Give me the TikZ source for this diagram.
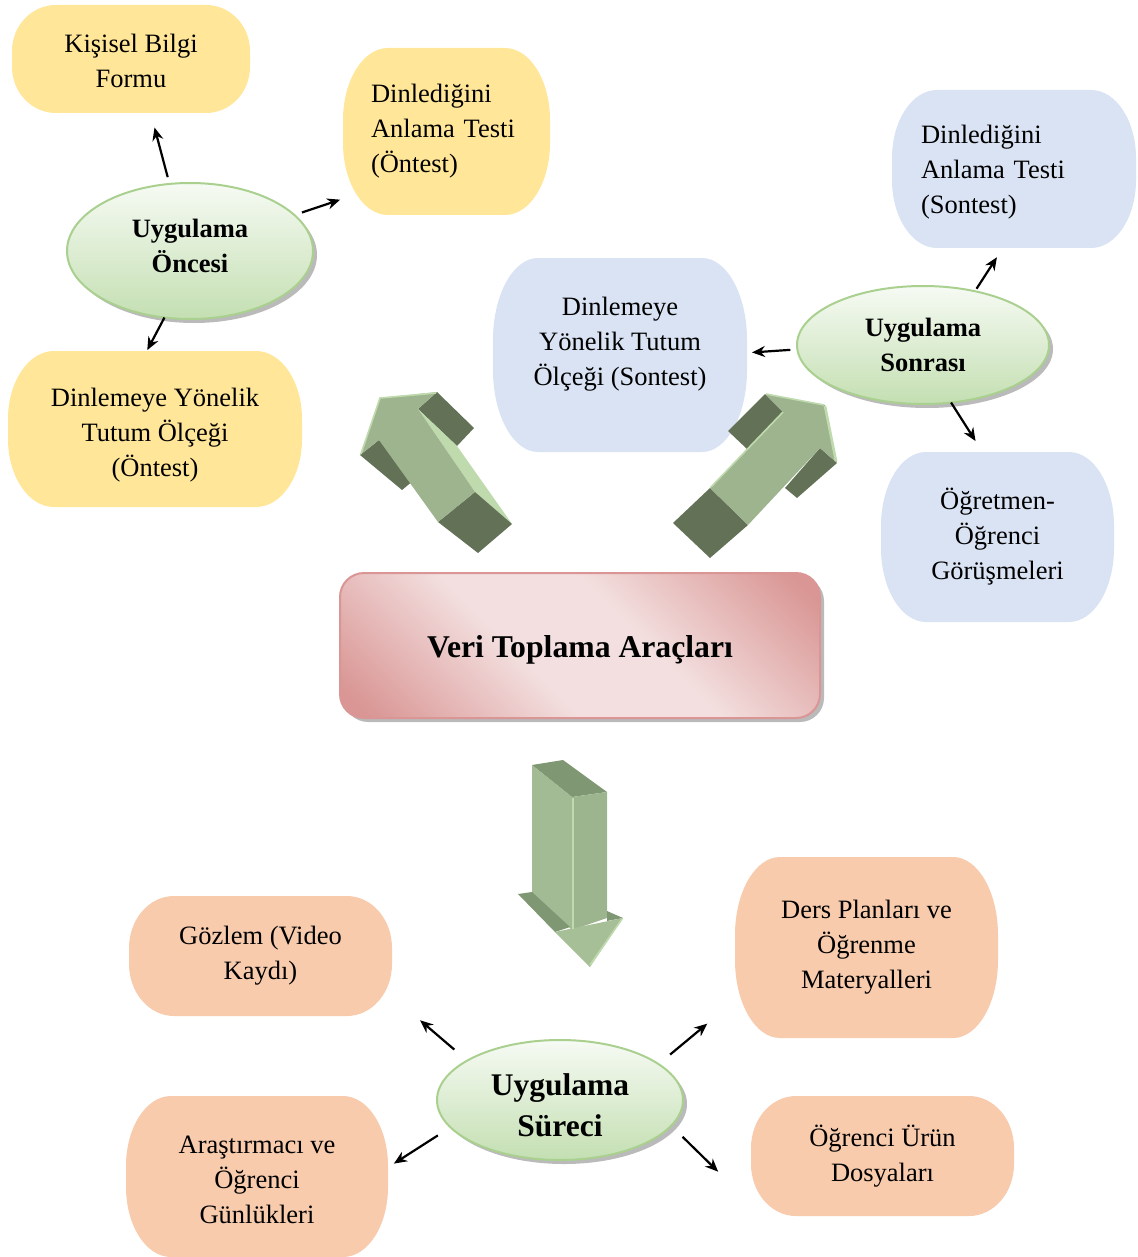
\documentclass[tikz,border=0pt]{standalone}
\usepackage{fontspec}
\setmainfont{Liberation Serif}
\usepackage{tikz}
\usetikzlibrary{shapes.geometric, arrows.meta, backgrounds, shadows}

\definecolor{preyellow}{HTML}{FFE699}
\definecolor{postblue}{HTML}{DAE3F3}
\definecolor{procorange}{HTML}{F8CBAD}
\definecolor{phasegreen}{HTML}{C4DFB2}
\definecolor{phaseline}{HTML}{A9D08E}
\definecolor{toolpink}{HTML}{F3DFDF}
\definecolor{toolrose}{HTML}{D99694}
\definecolor{arrface}{HTML}{9EB48F}
\definecolor{arrside}{HTML}{637257}
\definecolor{arrlight}{HTML}{BFDAAD}
\definecolor{downface}{HTML}{A3BB95}
\definecolor{downright}{HTML}{9DB58E}
\definecolor{downtop}{HTML}{7F9873}
\definecolor{downhead}{HTML}{A6BF97}

\pgfdeclarehorizontalshading{toolband}{100bp}{color(0bp)=(toolrose); color(18bp)=(toolrose); color(42bp)=(toolpink); color(58bp)=(toolpink); color(82bp)=(toolrose); color(100bp)=(toolrose)}

% box with elliptic corners, filled behind a node
\newcommand{\softbox}[4]{%
  \fill[#2] ([xshift=#3]#1.north west) -- ([xshift=-#3]#1.north east)
    arc[start angle=90, end angle=0, x radius=#3, y radius=#4]
    -- ([yshift=#4]#1.south east)
    arc[start angle=0, end angle=-90, x radius=#3, y radius=#4]
    -- ([xshift=#3]#1.south west)
    arc[start angle=270, end angle=180, x radius=#3, y radius=#4]
    -- ([yshift=-#4]#1.north west)
    arc[start angle=180, end angle=90, x radius=#3, y radius=#4] -- cycle;}

\begin{document}
\begin{tikzpicture}[
        x=1pt, y=-1pt,
        card/.style={inner sep=0pt, outer sep=0pt, align=center, font=\fontsize{26.5}{35}\selectfont},
        phase/.style={ellipse, draw=phaseline, line width=2pt, inner sep=0pt, outer sep=0pt, top color=white!85!phasegreen, bottom color=phasegreen, drop shadow={shadow xshift=4pt, shadow yshift=-4pt, fill=black!45, opacity=.6}, align=center, font=\bfseries\fontsize{26.5}{35}\selectfont},
        tool/.style={rounded corners=24pt, draw=toolrose, line width=2pt, inner sep=0pt, outer sep=0pt, shade, shading=toolband, shading angle=45, drop shadow={shadow xshift=4pt, shadow yshift=-4pt, fill=black!45, opacity=.6}, font=\bfseries\fontsize{31.7}{38}\selectfont},
        link/.style={-{Stealth[length=13pt, width=11pt]}, line width=2.2pt},
        arrfront/.style={fill=arrface},
        arrdark/.style={fill=arrside},
        arrhi/.style={fill=arrlight},
        arredge/.style={draw=arrlight, line width=1.6pt}
    ]
    \useasboundingbox (0,0) rectangle (1137,1257);

    % --- Uygulama Oncesi ---
    \node[phase, minimum width=246pt, minimum height=136pt] (oncesi) at (190,251) {Uygulama\\Öncesi\rule[-10pt]{0pt}{10pt}};
    \node[card, minimum width=238pt, minimum height=108pt] (kisisel) at (131,59) {\rule{0pt}{23pt}Kişisel Bilgi\\Formu};
    \node[card, align=left, text width=151pt, minimum width=207pt, minimum height=167pt] (dinl_on) at (446.5,131.5) {Dinlediğini\\Anlama Testi\\(Öntest)};
    \node[card, minimum width=294pt, minimum height=156pt] (tutum_on) at (155,429) {\rule{0pt}{30pt}Dinlemeye Yönelik\\Tutum Ölçeği\\(Öntest)};

    % --- Uygulama Sonrasi ---
    \node[phase, minimum width=252pt, minimum height=118pt] (sonrasi) at (923,345) {Uygulama\\Sonrası};
    \node[card, align=left, text width=186pt, minimum width=244pt, minimum height=158pt] (dinl_son) at (1014,169) {\rule{0pt}{25pt}Dinlediğini\\Anlama Testi\\(Sontest)};
    \node[card, minimum width=254pt, minimum height=194pt] (tutum_son) at (620,355) {Dinlemeye\\Yönelik Tutum\\Ölçeği (Sontest)\rule[-28pt]{0pt}{28pt}};
    \node[card, minimum width=233pt, minimum height=170pt] (gorusme) at (997.5,537) {Öğretmen-\\Öğrenci\\Görüşmeleri};

    % --- Veri Toplama ---
    \node[tool, minimum width=480pt, minimum height=145pt] (veri) at (580,645.5) {\rule{0pt}{30pt}Veri Toplama Araçları};

    % --- Uygulama Sureci ---
    \node[phase, minimum width=246pt, minimum height=120pt, font=\bfseries\fontsize{31.5}{41}\selectfont] (surec) at (560,1100) {\rule{0pt}{32pt}Uygulama\\Süreci};
    \node[card, minimum width=263pt, minimum height=120pt] (gozlem) at (260.5,956) {Gözlem (Video\\Kaydı)};
    \node[card, minimum width=263pt, minimum height=181pt] (dersplan) at (866.5,947.5) {Ders Planları ve\\Öğrenme\\Materyalleri};
    \node[card, minimum width=262pt, minimum height=161pt] (gunluk) at (257,1176.5) {\rule{0pt}{24pt}Araştırmacı ve\\Öğrenci\\Günlükleri};
    \node[card, minimum width=263pt, minimum height=120pt] (urun) at (882.5,1156) {Öğrenci Ürün\\Dosyaları};

    % Draw the boxes
    \begin{scope}[on background layer]
        \softbox{kisisel}{preyellow}{44pt}{46pt}
        \softbox{dinl_on}{preyellow}{45pt}{72pt}
        \softbox{tutum_on}{preyellow}{46pt}{68pt}
        \softbox{dinl_son}{postblue}{45pt}{68pt}
        \softbox{tutum_son}{postblue}{45pt}{82pt}
        \softbox{gorusme}{postblue}{45pt}{74pt}
        \softbox{gozlem}{procorange}{45pt}{52pt}
        \softbox{dersplan}{procorange}{45pt}{78pt}
        \softbox{gunluk}{procorange}{45pt}{70pt}
        \softbox{urun}{procorange}{45pt}{52pt}
    \end{scope}

    % --- Block arrows ---

    % 1. up-left
    \fill[arrdark] (360,455) -- (379,440) -- (420,475) -- (402,490) -- cycle;
    \fill[arrdark] (418,409) -- (437,392) -- (474,428) -- (457,446) -- cycle;
    \fill[arrhi] (418,409) -- (457,446) -- (512,524) -- (475,492) -- cycle;
    \fill[arrdark] (475,492) -- (512,524) -- (478,553) -- (438,522) -- cycle;
    \fill[arrfront] (380,398) -- (437,392) -- (418,409) -- (475,492) -- (438,522) -- (379,440) -- (360,455) -- cycle;
    \draw[arredge] (361,454) -- (380,398) -- (436,393);

    % 2. up-right
    \fill[arrdark] (765,394) -- (783,412) -- (747,449) -- (728,431) -- cycle;
    \fill[arrdark] (820,448) -- (837,463) -- (797,498) -- (785,488) -- cycle;
    \fill[arrdark] (710,488) -- (748,525) -- (710,558) -- (673,523) -- cycle;
    \fill[arrfront] (825,405) -- (837,463) -- (820,448) -- (748,525) -- (710,488) -- (783,412) -- (765,394) -- cycle;
    \draw[arredge] (783,412) -- (711,487);
    \draw[arredge, line width=2.6pt] (825,406) -- (836,461);
    \draw[arredge] (766,394) -- (824,405);

    % 3. down
    \fill[fill=downtop] (532,765) -- (563,760) -- (607,792) -- (572,797) -- cycle;
    \fill[fill=downface] (532,765) -- (572,797) -- (572,930) -- (532,893) -- cycle;
    \fill[fill=downright] (572,797) -- (607,792) -- (607,918) -- (572,930) -- cycle;
    \fill[fill=downtop] (518,894) -- (532,892) -- (570,927) -- (555,932) -- cycle;
    \fill[fill=downtop] (607,911) -- (623,918) -- (607,921) -- cycle;
    \fill[fill=downhead] (555,932) -- (623,918) -- (590,967) -- cycle;
    \draw[arredge] (573,798) -- (573,929);
    \draw[arredge] (622,919) -- (590,965);

    % --- Links ---
    \draw[link, shorten <=7pt, shorten >=15pt] (oncesi.107) -- (kisisel.290);
    \draw[link, shorten <=8pt, shorten >=3pt] (oncesi.19) -- (dinl_on.213);
    \draw[link, shorten >=1pt] (oncesi.249) -- (tutum_on.96);

    \draw[link, shorten <=3pt, shorten >=11pt] (sonrasi.46) -- (dinl_son.262);
    \draw[link, shorten <=7pt, shorten >=5pt] (sonrasi.182) -- (tutum_son.1);
    \draw[link, shorten >=13pt] (sonrasi.296) -- (gorusme.100);

    \draw[link, shorten <=17pt, shorten >=37pt] (surec.157) -- (gozlem.343);
    \draw[link, shorten <=15pt, shorten >=36pt] (surec.20) -- (dersplan.202);
    \draw[link, shorten <=15pt, shorten >=7pt] (surec.194) -- (gunluk.4);
    \draw[link, shorten <=16pt, shorten >=46pt] (surec.347) -- (urun.200);

\end{tikzpicture}
\end{document}
